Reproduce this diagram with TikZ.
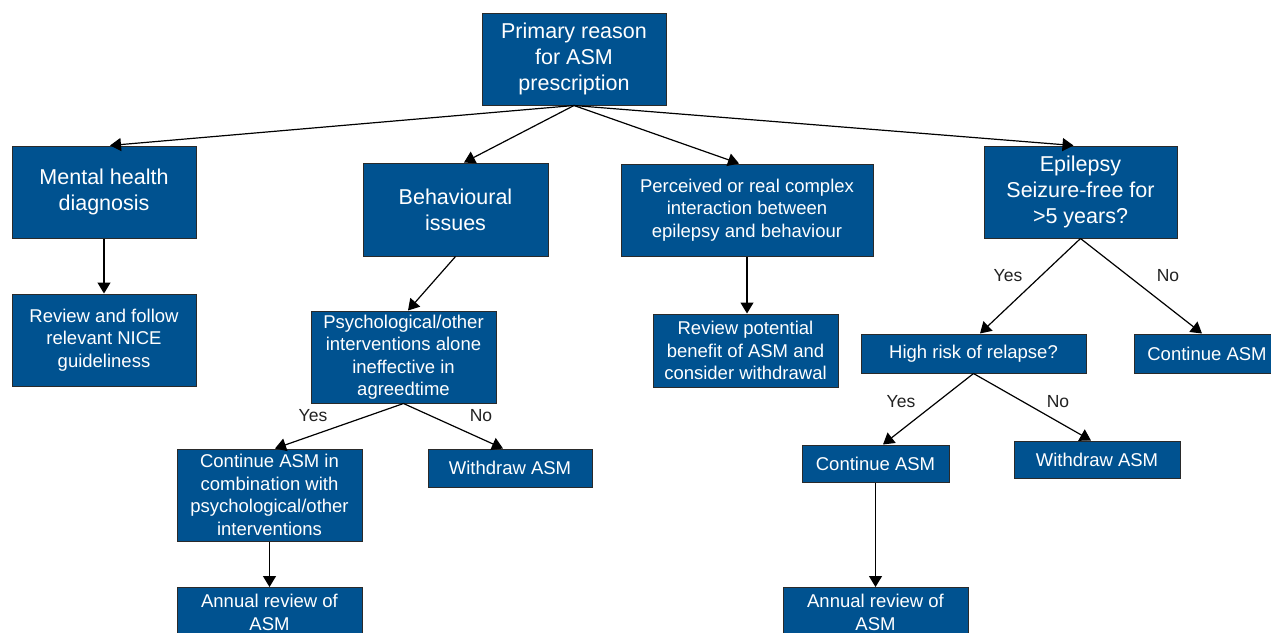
\documentclass[tikz,border=0pt]{standalone}
\usepackage{fontspec}
\setmainfont{Liberation Sans}
\usetikzlibrary{arrows.meta}
\definecolor{boxblue}{HTML}{005290}
\definecolor{edgegray}{HTML}{2A2A2A}
\definecolor{labelgray}{HTML}{222222}
\begin{document}
\begin{tikzpicture}[x=1pt,y=-1pt,
  box/.style={draw=edgegray, line width=1pt, fill=boxblue, text=white, align=center, inner sep=0pt},
  bigtext/.style={font=\fontsize{21.5}{26}\selectfont},
  smalltext/.style={font=\fontsize{18.5}{22.5}\selectfont},
  arr/.style={draw=black, line width=1.2pt, -{Triangle[width=13pt,length=11pt]}},
  lbl/.style={text=labelgray, font=\fontsize{17.5}{20}\selectfont, inner sep=0pt}]
\useasboundingbox (0,0) rectangle (1271,632);
\clip (0,0) rectangle (1271,632);
\fill[white] (0,0) rectangle (1271,632);

% nodes
\node[box,bigtext,minimum width=184,minimum height=92] (prim) at (574,59) {Primary reason\\for ASM\\prescription};
\node[box,bigtext,minimum width=184,minimum height=92] (ment) at (104,192) {Mental health\\diagnosis};
\node[box,bigtext,minimum width=185,minimum height=93] (beh) at (455.5,209.5) {Behavioural\\issues};
\node[box,smalltext,minimum width=252,minimum height=92] (perc) at (747,210) {Perceived or real complex\\interaction between\\epilepsy and behaviour};
\node[box,bigtext,minimum width=193,minimum height=92] (epi) at (1080.5,192) {Epilepsy\\Seizure-free for\\>5 years?};
\node[box,smalltext,minimum width=184,minimum height=92] (nice) at (104,340) {Review and follow\\relevant NICE\\guideliness};
\node[box,smalltext,minimum width=185,minimum height=92] (psy) at (403.5,357) {Psychological/other\\interventions alone\\ineffective in\\agreedtime};
\node[box,smalltext,minimum width=185,minimum height=73] (rpot) at (745.5,350.5) {Review potential\\benefit of ASM and\\consider withdrawal};
\node[box,smalltext,minimum width=225,minimum height=39] (high) at (973.5,353.5) {High risk of relapse?};
\node[box,smalltext,minimum width=146,minimum height=39] (contR) at (1207,353.5) {Continue ASM};
\node[box,smalltext,minimum width=185,minimum height=92] (combo) at (269.5,495) {Continue ASM in\\combination with\\psychological/other\\interventions};
\node[box,smalltext,minimum width=164,minimum height=38] (wdL) at (510,468) {Withdraw ASM};
\node[box,smalltext,minimum width=147,minimum height=37] (contM) at (875.5,463.5) {Continue ASM};
\node[box,smalltext,minimum width=166,minimum height=37] (wdR) at (1097,459.5) {Withdraw ASM};
\node[box,smalltext,minimum width=185,minimum height=50,anchor=north] (annL) at (269.5,587) {Annual review of\\ASM};
\node[box,smalltext,minimum width=185,minimum height=50,anchor=north] (annR) at (875.5,587) {Annual review of\\ASM};

% labels
\node[lbl] (yes1) at (313,416) {Yes};
\node[lbl] (no1) at (481,416) {No};
\node[lbl] (yes2) at (1008,276) {Yes};
\node[lbl] (no2) at (1168,276) {No};
\node[lbl] (yes3) at (901,402) {Yes};
\node[lbl] (no3) at (1058,402) {No};

% connectors
\draw[arr] (prim.south) -- ([xshift=6]ment.north);
\draw[arr] (prim.south) -- ([xshift=8.5]beh.north);
\draw[arr] (prim.south) -- ([xshift=-8]perc.north);
\draw[arr] (prim.south) -- ([xshift=-7]epi.north);
\draw[arr] (ment.south) -- (nice.north);
\draw[arr] (beh.south) -- ([xshift=4.5]psy.north);
\draw[arr] (perc.south) -- (perc.south |- rpot.north);
\draw[arr] (psy.south) -- ([xshift=5.5]combo.north);
\draw[arr] (psy.south) -- ([xshift=-7]wdL.north);
\draw[arr] (combo.south) -- (annL.north);
\draw[arr] (epi.south) -- ([xshift=6.5]high.north);
\draw[arr] (epi.south) -- ([xshift=-5]contR.north);
\draw[arr] (high.south) -- ([xshift=7.5]contM.north);
\draw[arr] (high.south) -- ([xshift=-6]wdR.north);
\draw[arr] (contM.south) -- (annR.north);
\end{tikzpicture}
\end{document}
